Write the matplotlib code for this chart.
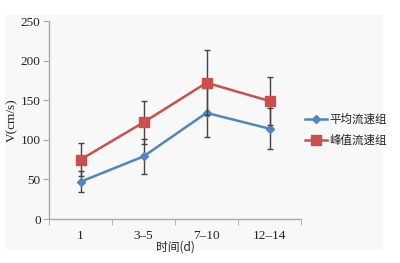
import matplotlib
matplotlib.use("Agg")
import matplotlib.pyplot as plt
from matplotlib.patches import Rectangle
from matplotlib.lines import Line2D
import numpy as np

categories = ["1", "3\u20135", "7\u201310", "12\u201314"]
mean_flow = [47, 79, 134, 114]
mean_err = [13, 22, 31, 26]
peak_flow = [75, 122, 172, 149]
peak_err = [21, 27, 41, 30]
labels = ["平均流速组", "峰值流速组"]

W, H = 400, 263
fig = plt.figure(figsize=(W / 100, H / 100), dpi=100)
fig.patch.set_facecolor("white")
bg = "#f8f8f8"
fig.patches.append(Rectangle((5 / W, 1 - 250 / H), 378 / W, 235 / H,
                             transform=fig.transFigure, facecolor=bg,
                             edgecolor="none", zorder=-10))

ax = fig.add_axes([49 / W, 1 - 219 / H, 252 / W, 198 / H])
ax.set_facecolor(bg)
x = np.arange(len(categories))

serif = ["Liberation Serif", "Noto Sans CJK SC"]
cjk = ["Noto Sans CJK SC", "Liberation Serif"]

blue = "#4f86c0"
red = "#c9504e"
ax.errorbar(x, mean_flow, yerr=mean_err, color=blue, lw=1.8, marker="D",
            markersize=4, ecolor="#444444", elinewidth=1, capsize=2.5,
            capthick=1, zorder=3)
ax.errorbar(x, peak_flow, yerr=peak_err, color=red, lw=1.8, marker="s",
            markersize=6.5, ecolor="#444444", elinewidth=1, capsize=2.5,
            capthick=1, zorder=4)

ax.set_xlim(-0.5, len(categories) - 0.5)
ax.set_ylim(0, 250)
ax.set_yticks([0, 50, 100, 150, 200, 250])
ax.set_xticks(x)
ax.set_xticklabels(categories)
ax.set_xticks(np.arange(-0.5, len(categories), 1), minor=True)
ax.tick_params(axis="x", which="major", length=0, pad=8)
ax.tick_params(axis="x", which="minor", length=4, color="#aaaaaa", direction="out")
ax.tick_params(axis="y", length=4, color="#aaaaaa", direction="out", pad=2)
for lab in ax.get_xticklabels() + ax.get_yticklabels():
    lab.set_fontfamily(serif)
    lab.set_fontsize(9.5)
    lab.set_color("#222222")

for s in ["top", "right"]:
    ax.spines[s].set_visible(False)
for s in ["left", "bottom"]:
    ax.spines[s].set_color("#aaaaaa")
    ax.spines[s].set_linewidth(1)

ax.set_ylabel("V(cm/s)", fontfamily=serif, fontsize=9.5, color="#222222", labelpad=2)
ax.set_xlabel("时间(d)", fontfamily=cjk, fontsize=8.5, color="#222222", labelpad=-1)

handles = [Line2D([], [], color=blue, lw=1.8, marker="D", markersize=4),
           Line2D([], [], color=red, lw=1.8, marker="s", markersize=6.5)]
leg = ax.legend(handles, labels, loc="center left", bbox_to_anchor=(0.975, 0.45),
                frameon=False, prop={"family": cjk, "size": 8.3}, handlelength=1.9,
                handletextpad=0.2, labelspacing=0.75)
for t in leg.get_texts():
    t.set_color("#222222")

fig.savefig("out.png", dpi=100, facecolor="white")
